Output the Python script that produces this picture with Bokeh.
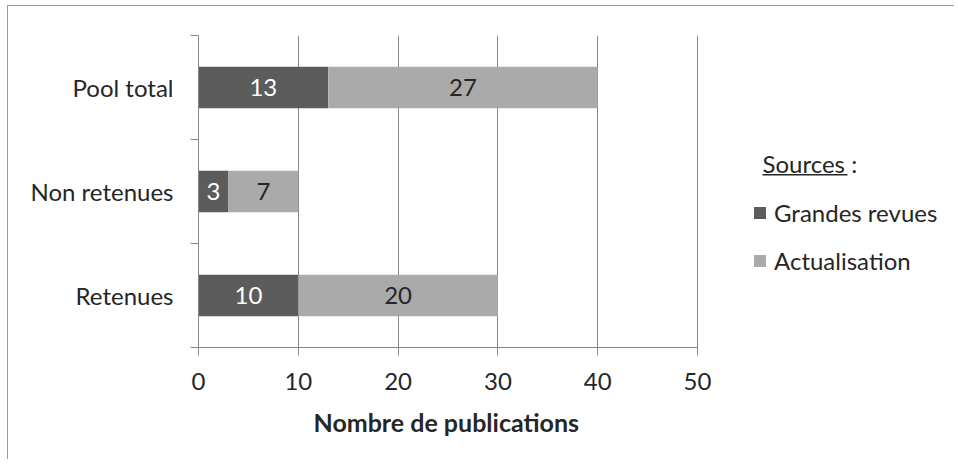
from bokeh.plotting import figure
from bokeh.models import (ColumnDataSource, FixedTicker, LabelSet, Legend, LegendItem,
                          Label, BoxAnnotation, Range1d, Title)
from bokeh.core.properties import value
from bokeh.embed import file_html
from bokeh.resources import INLINE

# ---- data ----
categories = ["Retenues", "Non retenues", "Pool total"]   # bottom to top
grandes_revues = [10, 3, 13]
actualisation = [20, 7, 27]
x_ticks = [0, 10, 20, 30, 40, 50]
x_label = "Nombre de publications"
legend_title = "Sources"
series_names = ["Grandes revues", "Actualisation"]

FONT = "Lato"
DARK = "#5c5c5c"
LIGHT = "#aaaaaa"
GRID = "#868686"
TXT = "#262626"
FS = "24px"

ypos = [i + 0.5 for i in range(len(categories))]
ac_right = [g + a for g, a in zip(grandes_revues, actualisation)]

src = ColumnDataSource(dict(
    y=ypos,
    gr_left=[0] * len(categories), gr_right=grandes_revues,
    ac_left=grandes_revues, ac_right=ac_right,
    gr_mid=[g / 2 for g in grandes_revues],
    ac_mid=[g + a / 2 for g, a in zip(grandes_revues, actualisation)],
    gr_txt=[str(v) for v in grandes_revues],
    ac_txt=[str(v) for v in actualisation],
))

XMAX = x_ticks[-1]
PX_PER_UNIT = 499 / XMAX
FRAME_W = 748
x_end = FRAME_W / PX_PER_UNIT

p = figure(frame_width=FRAME_W, frame_height=312,
           min_border_left=190, min_border_right=8,
           min_border_top=29, min_border_bottom=112,
           x_range=Range1d(0, x_end), y_range=Range1d(0, len(categories)),
           output_backend="svg", toolbar_location=None)
p.styles = {"border-top": "1px solid #9a9a9a", "border-left": "1px solid #9a9a9a",
            "margin-left": "7px", "margin-top": "5px"}
p.outline_line_color = None
p.background_fill_color = "white"
p.border_fill_color = "white"

r1 = p.hbar(y="y", left="gr_left", right="gr_right", height=0.4, source=src,
            fill_color=DARK, line_color=None)
r2 = p.hbar(y="y", left="ac_left", right="ac_right", height=0.4, source=src,
            fill_color=LIGHT, line_color=None)

p.add_layout(LabelSet(x="gr_mid", y="y", text="gr_txt", source=src,
                      text_align="center", text_baseline="middle",
                      text_font=value(FONT), text_font_size=FS, text_color="white"))
p.add_layout(LabelSet(x="ac_mid", y="y", text="ac_txt", source=src,
                      text_align="center", text_baseline="middle",
                      text_font=value(FONT), text_font_size=FS, text_color=TXT))

# x axis
xa = p.xaxis[0]
xa.bounds = (0, XMAX)
xa.ticker = FixedTicker(ticks=x_ticks, minor_ticks=[])
xa.axis_line_color = GRID
xa.major_tick_line_color = GRID
xa.major_tick_out = 8
xa.major_tick_in = 0
xa.minor_tick_line_color = None
xa.major_label_text_font = FONT
xa.major_label_text_font_size = FS
xa.major_label_text_color = TXT
xa.major_label_standoff = 17

# x axis title, centred under the 0..50 span
p.add_layout(Title(text=x_label, align="left", offset=111, standoff=17, padding=4,
                   text_font=FONT, text_font_size="25px", text_font_style="bold",
                   text_color=TXT), "below")

# y axis
ya = p.yaxis[0]
ya.ticker = FixedTicker(ticks=ypos, minor_ticks=list(range(len(categories) + 1)))
ya.major_label_overrides = {y: c for y, c in zip(ypos, categories)}
ya.axis_line_color = GRID
ya.major_tick_line_color = None
ya.major_tick_out = 0
ya.major_tick_in = 0
ya.minor_tick_line_color = GRID
ya.minor_tick_out = 8
ya.minor_tick_in = 0
ya.major_label_text_font = FONT
ya.major_label_text_font_size = FS
ya.major_label_text_color = TXT
ya.major_label_standoff = 17

p.xgrid.grid_line_color = GRID
p.xgrid.grid_line_width = 1
p.xgrid.bounds = (0, XMAX)
p.ygrid.grid_line_color = None

# legend
legend = Legend(items=[LegendItem(label=series_names[0], renderers=[r1]),
                       LegendItem(label=series_names[1], renderers=[r2])],
                location=(554, 72), orientation="vertical",
                glyph_width=15, glyph_height=15, label_standoff=7,
                spacing=19, padding=0, margin=0,
                border_line_color=None, background_fill_alpha=0,
                label_text_font=FONT, label_text_font_size=FS,
                label_text_color=TXT)
p.add_layout(legend)

p.add_layout(Label(x=(762 - 198) / PX_PER_UNIT, y=(347 - 163) / 104,
                   text=legend_title + " :", text_font=FONT,
                   text_font_size=FS, text_color=TXT, text_baseline="middle"))
p.add_layout(BoxAnnotation(left=(762 - 198) / PX_PER_UNIT, right=(847 - 198) / PX_PER_UNIT,
                           bottom=(347 - 175) / 104, top=(347 - 173.5) / 104,
                           fill_color=TXT, fill_alpha=1, line_color=None))

open("out.html", "w").write(file_html(p, INLINE))
